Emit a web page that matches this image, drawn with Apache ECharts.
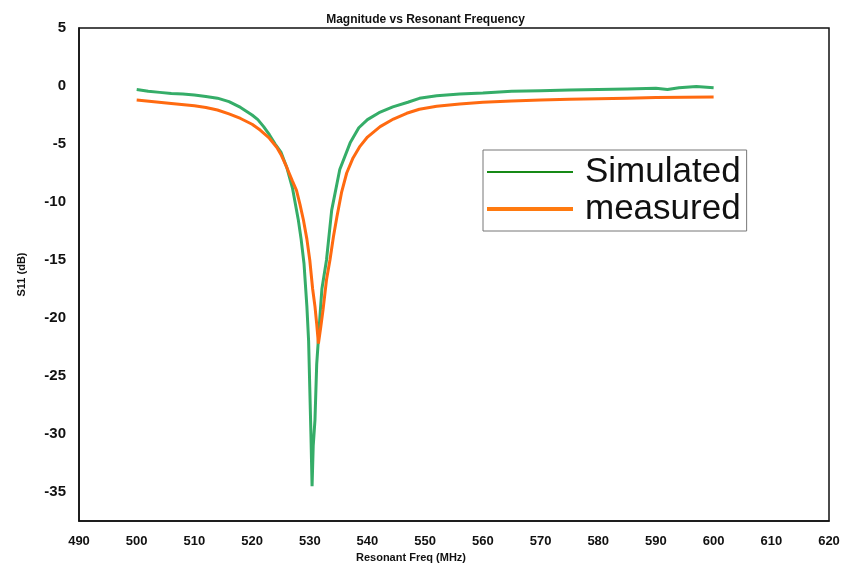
<!DOCTYPE html>
<html>
<head>
<meta charset="utf-8">
<script src="https://cdn.jsdelivr.net/npm/echarts@6/dist/echarts.min.js"></script>
<style>
  html, body { margin: 0; padding: 0; background: #fff; }
  #chart { width: 851px; height: 565px; }
</style>
</head>
<body>
<div id="chart"></div>
<script>
// simulated curve (MHz, dB)
var simFreq = [500, 502, 504, 506, 508, 510, 512, 514, 516, 518, 520, 521, 522, 523, 524, 525, 526, 527, 528, 528.5, 529, 529.5, 529.8, 530, 530.2, 530.4, 530.6, 530.9, 531.2, 531.8, 532.1, 532.9, 533.8, 535.2, 537, 538.5, 540, 542, 544.4, 547, 549, 552, 556, 560, 565, 570, 575, 580, 585, 590, 592, 594, 597, 600];
var simS11 = [-0.3, -0.45, -0.55, -0.65, -0.7, -0.78, -0.9, -1.05, -1.35, -1.85, -2.5, -2.9, -3.5, -4.2, -5.0, -5.7, -7.0, -8.8, -11.5, -13.2, -15.3, -19.0, -22, -26, -30, -34.5, -31, -28.8, -24, -19.6, -17.5, -15, -10.7, -7.2, -4.9, -3.6, -2.9, -2.3, -1.8, -1.4, -1.06, -0.85, -0.7, -0.6, -0.45, -0.4, -0.35, -0.3, -0.25, -0.2, -0.3, -0.15, -0.05, -0.15];

// measured curve (MHz, dB)
var measFreq = [500, 503, 506, 510, 512, 514, 516, 518, 520, 521.4, 523, 524.3, 525, 526, 527, 527.7, 528.3, 528.9, 529.5, 530, 530.5, 530.9, 531.2, 531.5, 531.9, 532.3, 532.9, 533.5, 534.1, 534.7, 535.5, 536.4, 537.5, 538.7, 540, 542.2, 544.5, 546.8, 549, 552, 556, 560, 565, 570, 575, 580, 585, 590, 595, 600];
var measS11 = [-1.2, -1.35, -1.5, -1.7, -1.85, -2.07, -2.4, -2.8, -3.3, -3.8, -4.5, -5.3, -5.9, -7.0, -8.2, -9.0, -10.2, -11.55, -13.2, -15, -17.5, -19, -20.5, -22.2, -20.8, -19.3, -16.7, -15, -13, -11.3, -9.2, -7.5, -6.2, -5.2, -4.4, -3.5, -2.85, -2.35, -2.0, -1.75, -1.55, -1.4, -1.3, -1.2, -1.15, -1.1, -1.05, -1.0, -0.97, -0.95];

// y tick labels
var yTicks = [5, 0, -5, -10, -15, -20, -25, -30, -35];

function pairs(xs, ys) {
    var out = [];
    for (var i = 0; i < xs.length; i++) {
        out.push([xs[i], ys[i]]);
    }
    return out;
}

var myChart = echarts.init(document.getElementById('chart'));
var font = 'Liberation Sans, Arial, sans-serif';

var option = {
    backgroundColor: '#fff',
    animation: false,
    title: {
        text: 'Magnitude vs Resonant Frequency',
        left: 'center',
        top: 9,
        textStyle: { color: '#111', fontSize: 12, fontWeight: 'bold', fontFamily: font }
    },
    grid: {
        left: 79,
        right: 22,
        top: 28,
        bottom: 44,
        outerBoundsMode: 'none',
        containLabel: false,
        show: true,
        borderColor: '#111',
        borderWidth: 1.5,
        backgroundColor: 'transparent'
    },
    legend: {
        orient: 'vertical',
        left: 483,
        top: 150,
        padding: [4, 6, 4, 4],
        backgroundColor: '#fff',
        borderColor: '#777',
        borderWidth: 1,
        itemWidth: 86,
        itemHeight: 14,
        itemGap: 1,
        symbolKeepAspect: true,
        textStyle: { color: '#111', fontSize: 35, fontFamily: font, lineHeight: 36, padding: [0, 0, 0, 7] },
        data: [
            { name: 'Simulated', icon: 'path://M0,0H86V2H0Z', itemStyle: { color: '#168a16' } },
            { name: 'measured', icon: 'path://M0,0H86V4H0Z', itemStyle: { color: '#ff7a10' } }
        ]
    },
    xAxis: {
        type: 'value',
        min: 490,
        max: 620,
        interval: 10,
        name: 'Resonant Freq (MHz)',
        nameLocation: 'middle',
        nameGap: 25,
        nameTextStyle: { color: '#111', fontSize: 11, fontWeight: 'bold', fontFamily: font, padding: [0, 86, 0, 0] },
        axisLine: { show: true, onZero: false, lineStyle: { color: '#111', width: 1.5 } },
        axisTick: { show: false },
        splitLine: { show: false },
        axisLabel: { color: '#111', fontSize: 13, fontWeight: 'bold', fontFamily: font, margin: 14 }
    },
    yAxis: {
        type: 'value',
        min: -37.5,
        max: 5,
        name: 'S11 (dB)',
        nameLocation: 'middle',
        nameGap: 52,
        nameTextStyle: { color: '#111', fontSize: 11, fontWeight: 'bold', fontFamily: font },
        axisLine: { show: true, onZero: false, lineStyle: { color: '#111', width: 1.5 } },
        axisTick: { show: false },
        splitLine: { show: false },
        axisLabel: {
            customValues: yTicks,
            color: '#111', fontSize: 15, fontWeight: 'bold', fontFamily: font, margin: 13
        }
    },
    series: [
        {
            name: 'Simulated',
            type: 'line',
            symbol: 'none',
            smooth: false,
            lineStyle: { color: '#35ad68', width: 3 },
            itemStyle: { color: '#35ad68' },
            data: pairs(simFreq, simS11)
        },
        {
            name: 'measured',
            type: 'line',
            symbol: 'none',
            smooth: false,
            lineStyle: { color: '#ff6a10', width: 3 },
            itemStyle: { color: '#ff6a10' },
            data: pairs(measFreq, measS11)
        }
    ]
};
myChart.setOption(option);
</script>
</body>
</html>
